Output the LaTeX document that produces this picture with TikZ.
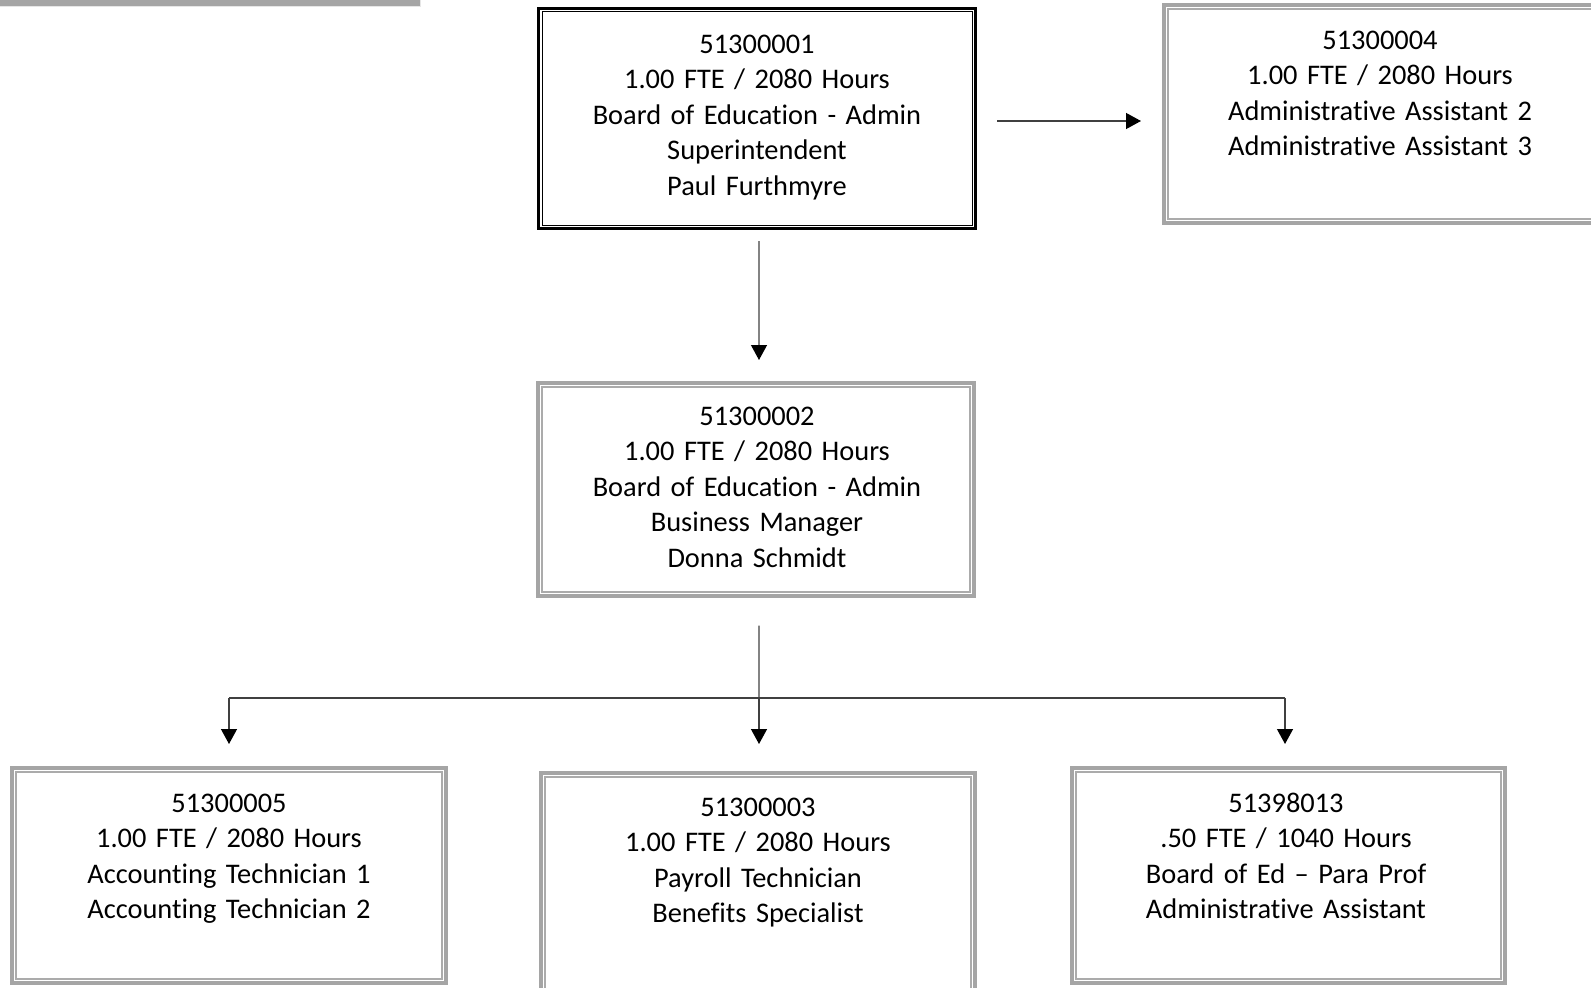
\documentclass[tikz,border=0pt]{standalone}
\usepackage{fontspec}
\setmainfont{Carlito}[Ligatures={NoCommon}, RawFeature={-liga;-clig;-dlig}]
\usetikzlibrary{arrows.meta}
\definecolor{boxgray}{HTML}{A5A5A5}
\definecolor{innergray}{HTML}{ABABAB}
\definecolor{linegray}{HTML}{404040}
\definecolor{baredge}{HTML}{E6E6E6}
\begin{document}
\begin{tikzpicture}[x=1bp,y=-1bp,
  blackframe/.style={draw=black, line width=3bp, inner sep=0, outer sep=0},
  grayframe/.style={draw=boxgray, line width=4bp, inner sep=0, outer sep=0},
  txt/.style={anchor=base, align=center, text width=430bp, inner sep=0,
    font=\fontsize{28.4bp}{35.5bp}\selectfont},
  conn/.style={draw=linegray, line width=1.3bp},
  arr/.style={conn, -{Triangle[width=16bp,length=15bp,color=black]}}]
\useasboundingbox (0,0) rectangle (1591,987);
\clip (0,0) rectangle (1591,987);
% top-left bar
\fill[boxgray] (0,0) rectangle (420,6);
\draw[baredge, line width=1bp] (0,6.5) -- (420.5,6.5) -- (420.5,0);
% frames
\node[blackframe, minimum width=437bp, minimum height=220bp] (n1) at (757,118.5) {};
\draw[black, line width=1bp] ([xshift=3.5bp,yshift=-3.5bp]n1.north west) rectangle ([xshift=-3.5bp,yshift=3.5bp]n1.south east);
\node[grayframe, minimum width=456bp, minimum height=218bp] (n4) at (1392,114) {};
\node[grayframe, minimum width=436bp, minimum height=213bp] (n2) at (756,489.5) {};
\node[grayframe, minimum width=434bp, minimum height=215bp] (n5) at (229,875.5) {};
\node[grayframe, minimum width=434bp, minimum height=237bp] (n3) at (758,891.5) {};
\node[grayframe, minimum width=433bp, minimum height=215bp] (n6) at (1288.5,875.5) {};
\foreach \b in {n4,n2,n5,n3,n6}{
  \draw[innergray, line width=1.2bp] ([xshift=4bp,yshift=-4bp]\b.north west) rectangle ([xshift=-4bp,yshift=4bp]\b.south east);
}
% texts
\node[txt] (t1) at (757,53) {51300001\\1.00 FTE / 2080 Hours\\Board of Education - Admin\\Superintendent\\Paul Furthmyre};
\node[txt] (t4) at (1380,49) {51300004\\1.00 FTE / 2080 Hours\\Administrative Assistant 2\\Administrative Assistant 3};
\node[txt] (t2) at (757,425) {51300002\\1.00 FTE / 2080 Hours\\Board of Education - Admin\\Business Manager\\Donna Schmidt};
\node[txt] (t5) at (229,812) {51300005\\1.00 FTE / 2080 Hours\\Accounting Technician 1\\Accounting Technician 2};
\node[txt] (t3) at (758,816) {51300003\\1.00 FTE / 2080 Hours\\Payroll Technician\\Benefits Specialist};
\node[txt] (t6) at (1286,812) {51398013\\.50 FTE / 1040 Hours\\Board of Ed – Para Prof\\Administrative Assistant};
% connectors
\draw[arr, shorten <=12.5bp, shorten >=23bp] ([xshift=2bp]n1.south) -- ([xshift=3bp]n2.north);
\draw[arr, shorten <=21.5bp, shorten >=23bp] ([yshift=-2.5bp]n1.east) -- ([yshift=-2.5bp]n1.east -| n4.west);
\coordinate (busM) at (759,698);
\coordinate (busL) at (229,698);
\coordinate (busR) at (1285,698);
\draw[conn, shorten <=29.5bp] ([xshift=3bp]n2.south) -- (busM);
\draw[conn] (busL) -- (busR);
\draw[arr, shorten >=24bp] (busL) -- (busL |- n5.north);
\draw[arr, shorten >=29bp] (busM) -- (busM |- n3.north);
\draw[arr, shorten >=24bp] (busR) -- (busR |- n6.north);
\end{tikzpicture}
\end{document}
